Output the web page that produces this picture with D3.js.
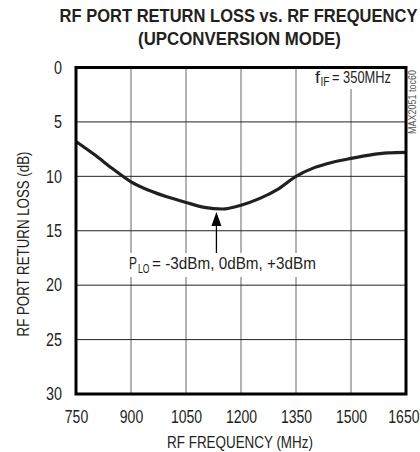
<!DOCTYPE html>
<html><head><meta charset="utf-8">
<script src="https://cdn.jsdelivr.net/npm/d3@7"></script>
<style>
body{margin:0;background:#fff;}
text{font-family:"Liberation Sans",Arial,sans-serif;fill:#231f20;}
</style></head>
<body>
<svg id="c" width="420" height="452"></svg>
<script>
const freqMHz = [750,800,850,900,950,1000,1050,1100,1150,1200,1250,1300,1350,1400,1450,1500,1550,1600,1650];
const returnLossDb = [6.8,8.0,9.3,10.5,11.3,11.9,12.4,12.85,13.0,12.65,12.05,11.2,10.0,9.2,8.7,8.35,8.05,7.85,7.8];
const xTicks = [750,900,1050,1200,1350,1500,1650];
const yTicks = [0,5,10,15,20,25,30];
const titleLines = ["RF PORT RETURN LOSS vs. RF FREQUENCY","(UPCONVERSION MODE)"];
const xLabel = "RF FREQUENCY (MHz)";
const yLabel = "RF PORT RETURN LOSS (dB)";
const annotationFreq = 1133;

const m = {l:76, t:67.5, r:406, b:394};
const svg = d3.select("#c");
const x = d3.scaleLinear().domain([750,1650]).range([m.l,m.r]);
const y = d3.scaleLinear().domain([0,30]).range([m.t,m.b]);

// place a horizontally condensed text: (px,py) anchor point, width w
function label(parent, txt, px, py, w, opts={}) {
  const gg = parent.append("g");
  const t = gg.append("text").attr("x",0).attr("y",0)
    .attr("font-size",opts.size||17).attr("text-anchor",opts.anchor||"start")
    .attr("font-weight",opts.weight||"normal").text(txt);
  if (opts.fill) t.style("fill",opts.fill);
  const L = t.node().getComputedTextLength();
  const sx = w / L;
  gg.attr("transform",`translate(${px},${py})${opts.rotate?` rotate(${opts.rotate})`:""} scale(${sx},1)`);
  return gg;
}

// title
label(svg,titleLines[0],238.5,22,358,{anchor:"middle",weight:"bold",size:19});
label(svg,titleLines[1],239.5,45,203,{anchor:"middle",weight:"bold",size:19});

// grid
const g = svg.append("g");
g.selectAll(".vg").data(xTicks.slice(1,-1)).join("line")
  .attr("x1",d=>x(d)).attr("x2",d=>x(d)).attr("y1",m.t).attr("y2",m.b)
  .attr("stroke","#666").attr("stroke-width",1);
g.selectAll(".hg").data(yTicks.slice(1,-1)).join("line")
  .attr("y1",d=>y(d)).attr("y2",d=>y(d)).attr("x1",m.l).attr("x2",m.r)
  .attr("stroke","#222").attr("stroke-width",1);

// axes (labels only, condensed)
const xAxis = svg.append("g").attr("transform",`translate(0,${m.b})`)
  .call(d3.axisBottom(x).tickValues(xTicks).tickSize(0).tickPadding(16).tickFormat(d3.format("d")));
xAxis.select(".domain").remove();
xAxis.selectAll(".tick text").each(function(d){
  const t = d3.select(this).attr("font-size",18).style("font-family",'"Liberation Sans",Arial,sans-serif').attr("fill","#231f20");
  const L = this.getComputedTextLength();
  const sx = String(d).length*7.8 / L;
  t.attr("transform",`scale(${sx},1)`);
  if (d===1650) t.attr("text-anchor","end").attr("x",13/sx);
});
const yAxis = svg.append("g").attr("transform",`translate(${m.l},0)`)
  .call(d3.axisLeft(y).tickValues(yTicks).tickSize(0).tickPadding(14));
yAxis.select(".domain").remove();
yAxis.selectAll(".tick text").each(function(d){
  const t = d3.select(this).attr("font-size",18).style("font-family",'"Liberation Sans",Arial,sans-serif').attr("fill","#231f20");
  const L = this.getComputedTextLength();
  const sx = String(d).length*8 / L;
  t.attr("transform",`scale(${sx},1)`).attr("x",-14/sx);
});

label(svg,xLabel,240,448,146,{anchor:"middle",size:17});
label(svg,yLabel,29,244,185,{anchor:"middle",size:16,rotate:-90});

// curve
const line = d3.line().x((d,i)=>x(freqMHz[i])).y(d=>y(d)).curve(d3.curveMonotoneX);
svg.append("path").datum(returnLossDb).attr("d",line).attr("fill","none")
  .attr("stroke","#231f20").attr("stroke-width",3.2).attr("stroke-linejoin","round");

// fIF label
const fg = svg.append("g");
fg.append("rect").attr("x",312).attr("y",69).attr("width",83).attr("height",20).attr("fill","#fff");
label(fg,"f",315,83,5,{size:17});
label(fg,"IF",320.5,86,9,{size:12});
label(fg,"= 350MHz",332,83,59,{size:17});

// PLO annotation
const ag = svg.append("g");
ag.append("rect").attr("x",127).attr("y",253).attr("width",192).attr("height",24).attr("fill","#fff");
label(ag,"P",129,269,8,{size:17});
label(ag,"LO",138,273,11.5,{size:12});
label(ag,"= -3dBm, 0dBm, +3dBm",152,269,164,{size:17});
const ax = x(annotationFreq);
ag.append("line").attr("x1",ax).attr("x2",ax).attr("y1",253).attr("y2",222).attr("stroke","#000").attr("stroke-width",1.3);
ag.append("path").attr("d",`M${ax},${y(13.0)+3} L${ax-5},${y(13.0)+17} L${ax+5},${y(13.0)+17} Z`).attr("fill","#000");

// frame
svg.append("rect").attr("x",m.l).attr("y",m.t).attr("width",m.r-m.l).attr("height",m.b-m.t)
  .attr("fill","none").attr("stroke","#000").attr("stroke-width",3);

// side tag
label(svg,"MAX2051 toc60",416,102,64,{anchor:"middle",size:10,rotate:-90,fill:"#555"});
</script>
</body></html>
